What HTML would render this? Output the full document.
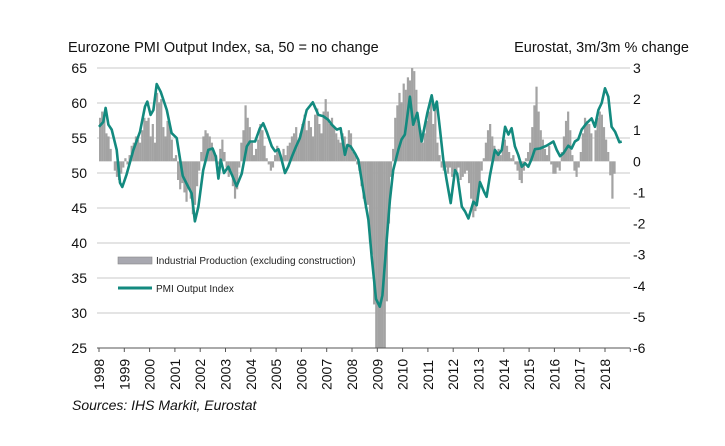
<!DOCTYPE html>
<html><head><meta charset="utf-8"><style>
body{margin:0;background:#fff;}
svg{display:block;font-family:"Liberation Sans",Arial,sans-serif;}
</style></head><body>
<svg id="chart" width="725" height="446" viewBox="0 0 725 446" xmlns="http://www.w3.org/2000/svg">
<text x="68" y="52" font-size="14.5" fill="#111">Eurozone PMI Output Index, sa, 50 = no change</text>
<text x="689" y="52" font-size="14.5" fill="#111" text-anchor="end">Eurostat, 3m/3m % change</text>
<g id="grid"></g><g id="bars"></g><g id="lines"></g><g id="axes"></g>
<g>
<rect x="118" y="257" width="34" height="7" fill="#a8a8b0" stroke="#888" stroke-width="0.6"/>
<text x="156" y="264" font-size="10" fill="#222">Industrial Production (excluding construction)</text>
<line x1="118" y1="288" x2="152" y2="288" stroke="#138a7f" stroke-width="3"/>
<text x="156" y="292" font-size="10" fill="#222">PMI Output Index</text>
</g>
<text x="72" y="410" font-size="14" font-style="italic" fill="#111">Sources: IHS Markit, Eurostat</text>
</svg>
<script>
const leftTicks=[65,60,55,50,45,40,35,30,25];
const rightTicks=[3,2,1,0,-1,-2,-3,-4,-5,-6];
const yearLabels=[1998,1999,2000,2001,2002,2003,2004,2005,2006,2007,2008,2009,2010,2011,2012,2013,2014,2015,2016,2017,2018];
const ipStartYear=1998;
const ipValues=[
1.4,1.6,1.5,0.9,0.8,0.4,0.0,-0.3,-0.5,-0.6,-0.4,-0.2,
0.1,-0.1,0.2,0.5,0.6,0.8,0.7,0.6,1.0,1.4,1.3,1.4,
0.8,1.2,0.6,2.2,1.9,2.0,1.1,0.8,1.3,1.2,0.7,0.1,
0.2,-0.6,-0.9,-0.7,-1.0,-1.3,-0.9,-1.2,-1.7,-1.4,-0.8,-0.3,
0.3,0.8,1.0,0.9,0.8,0.6,0.3,0.2,-0.1,0.4,0.7,0.3,
-0.2,-0.5,-0.3,-0.8,-1.2,-0.9,-0.2,0.6,1.0,1.8,1.4,1.1,
0.6,0.2,0.4,0.7,1.2,1.0,0.5,0.1,-0.1,-0.3,-0.2,0.2,
0.5,0.3,0.1,0.4,0.2,0.5,0.6,0.8,0.9,1.1,0.7,0.9,
1.2,1.5,1.0,1.3,1.1,0.8,1.5,1.7,1.2,0.9,1.6,2.0,
1.6,1.2,1.4,1.1,0.9,0.7,0.6,0.9,0.8,0.5,1.0,0.9,
0.3,0.2,-0.1,-0.3,-0.8,-1.2,-1.5,-1.4,-2.6,-3.0,-4.6,-6.0,
-6.0,-6.0,-6.0,-6.0,-4.5,-2.0,-0.5,0.4,1.4,1.8,2.2,1.9,
2.5,2.3,2.7,2.6,3.0,2.9,2.3,1.2,1.0,0.6,0.9,1.3,
1.6,1.9,1.2,1.8,0.6,0.2,-0.2,-0.3,-0.2,-0.4,-0.2,-0.5,
-0.3,-0.4,-0.2,-0.6,-0.5,-0.4,-0.3,-0.7,-1.2,-1.8,-1.6,-1.3,
-0.8,-0.3,0.1,0.6,1.0,1.2,0.8,0.5,0.3,0.4,0.2,0.6,
0.7,0.5,0.3,0.1,0.2,-0.1,-0.3,-0.6,-0.7,-0.3,0.1,0.3,
0.6,1.1,1.8,2.4,1.6,1.0,0.7,0.4,0.2,0.5,-0.1,-0.4,
-0.4,-0.2,-0.3,0.3,0.8,1.3,1.6,1.0,0.2,-0.3,-0.5,-0.2,
0.3,0.9,1.4,1.3,1.2,0.9,0.0,1.0,1.4,1.6,1.5,1.1,
0.7,0.3,-0.45,-1.2,-0.4];
const pmiDates=[1998.0,1998.17,1998.26,1998.37,1998.5,1998.7,1998.83,1998.92,1999.09,1999.36,1999.62,1999.82,1999.91,2000.04,2000.15,2000.28,2000.44,2000.68,2000.87,2001.07,2001.31,2001.53,2001.66,2001.79,2001.93,2002.12,2002.32,2002.49,2002.62,2002.72,2002.81,2002.94,2003.11,2003.28,2003.44,2003.64,2003.84,2003.97,2004.17,2004.36,2004.49,2004.63,2004.83,2004.96,2005.09,2005.18,2005.35,2005.48,2005.62,2005.79,2005.94,2006.21,2006.45,2006.67,2006.87,2007.06,2007.2,2007.4,2007.55,2007.72,2007.82,2007.95,2008.12,2008.25,2008.38,2008.51,2008.65,2008.78,2008.95,2009.1,2009.2,2009.37,2009.5,2009.63,2009.83,2009.96,2010.09,2010.29,2010.42,2010.58,2010.75,2010.98,2011.15,2011.25,2011.35,2011.48,2011.61,2011.74,2011.9,2012.07,2012.16,2012.34,2012.47,2012.6,2012.7,2012.8,2012.93,2013.06,2013.22,2013.32,2013.45,2013.65,2013.78,2013.92,2014.05,2014.18,2014.31,2014.44,2014.57,2014.71,2014.84,2014.97,2015.1,2015.23,2015.43,2015.69,2015.96,2016.09,2016.22,2016.35,2016.55,2016.68,2016.81,2016.94,2017.08,2017.27,2017.47,2017.6,2017.74,2017.87,2018.0,2018.13,2018.26,2018.4,2018.57,2018.66];
const pmiValues=[56.6,57.3,59.3,56.9,56.2,53.3,48.6,48.0,49.8,53.3,55.9,59.5,60.2,58.3,59.0,62.7,61.6,59.0,55.7,55.0,49.6,48.0,47.1,43.1,45.2,50.4,53.3,53.5,52.3,49.2,51.9,50.0,50.9,49.5,48.1,49.9,53.8,54.5,54.5,56.4,57.1,55.9,53.8,53.1,53.4,52.4,50.0,50.9,52.3,53.8,55.0,59.0,60.1,58.3,58.1,57.6,56.9,56.2,56.4,52.6,54.0,53.8,52.8,51.9,49.0,46.1,43.3,38.0,32.0,30.9,32.5,40.4,46.1,50.4,53.3,54.8,55.5,60.9,56.9,58.6,54.5,58.6,61.1,59.0,60.2,56.2,51.9,49.0,45.7,50.4,49.9,45.2,44.5,43.5,44.7,45.9,45.4,48.7,47.3,46.6,49.6,53.3,52.6,53.3,56.6,55.5,56.4,53.8,52.6,50.9,51.4,50.9,52.0,53.4,53.5,53.9,54.5,53.3,52.4,52.8,53.9,53.5,54.5,54.8,56.2,57.1,57.8,56.6,59.0,60.0,62.1,60.9,56.6,55.9,54.4,54.5];

const NS="http://www.w3.org/2000/svg";
const X0=99, YR=25.3, XL=97, XR=630;
const xOf=t=>X0+(t-1998)*YR;
const yL=v=>68+(65-v)*7;
const yR=v=>68+(3-v)*(280/9);
function mk(tag,attrs,parent){const e=document.createElementNS(NS,tag);for(const k in attrs)e.setAttribute(k,attrs[k]);parent.appendChild(e);return e;}
const grid=document.getElementById('grid'),bars=document.getElementById('bars'),lines=document.getElementById('lines'),axes=document.getElementById('axes');
leftTicks.forEach(v=>{
  if(v!==25){const g=mk('line',{x1:XL,x2:XR,y1:yL(v),y2:yL(v),stroke:'#c8c8c8','stroke-width':1},grid);
  
  }
  const t=mk('text',{x:87,y:yL(v)+5,'font-size':14,'text-anchor':'end',fill:'#111'},axes);t.textContent=v;
  
  
});
rightTicks.forEach(v=>{
  const t=mk('text',{x:633,y:yR(v)+5,'font-size':14,fill:'#111'},axes);t.textContent=v;
  
  
});
const bw=YR/12;
ipValues.forEach((v,i)=>{
  const t=ipStartYear+i/12;const y0=yR(0),y1=yR(Math.max(v,-6));
  const r=mk('rect',{x:xOf(t),y:Math.min(y0,y1),width:bw+0.1,height:Math.abs(y1-y0),fill:'#a3a3a3'},bars);
  
  
});
const pts=pmiDates.map((d,i)=>xOf(d).toFixed(1)+','+yL(pmiValues[i]).toFixed(1)).join(' ');
const pl=mk('polyline',{points:pts,fill:'none',stroke:'#138a7f','stroke-width':2.6,'stroke-linejoin':'round'},lines);


const ax=mk('line',{x1:XL,x2:XR,y1:348,y2:348,stroke:'#555','stroke-width':1},axes);


for(let y=1998;y<=2019;y++){
  const tk=mk('line',{x1:xOf(y),x2:xOf(y),y1:348,y2:352,stroke:'#555'},axes);
  
  
}
yearLabels.forEach(y=>{
  const x=xOf(y)+5;
  const t=mk('text',{x:x,y:390,'font-size':14,fill:'#111',transform:`rotate(-90 ${x} 390)`},axes);t.textContent=y;
  
  
});
</script>
</body></html>
